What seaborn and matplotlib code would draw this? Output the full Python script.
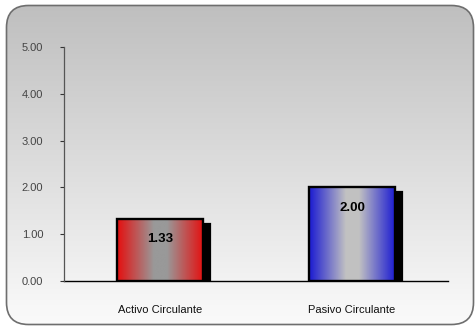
import numpy as np
import matplotlib
matplotlib.use("Agg")
import matplotlib.pyplot as plt
import matplotlib.transforms as mtransforms
from matplotlib.patches import FancyBboxPatch, Rectangle
import seaborn as sns

categories = ["Activo Circulante", "Pasivo Circulante"]
values = [1.33, 2.00]
value_labels = ["1.33", "2.00"]
ytick_values = [0, 1, 2, 3, 4, 5]
ytick_labels = ["0.00", "1.00", "2.00", "3.00", "4.00", "5.00"]
edge_colors = [(0.88, 0.09, 0.09), (0.14, 0.14, 0.82)]
center_colors = [(0.60, 0.60, 0.60), (0.76, 0.76, 0.76)]

sns.set_style("white")
plt.rcParams["font.family"] = ["Liberation Sans", "DejaVu Sans"]

W, H = 475, 328
fig = plt.figure(figsize=(W / 100, H / 100), dpi=100)
fig.patch.set_facecolor("white")

# background rounded gradient panel
bg = fig.add_axes([0, 0, 1, 1], zorder=-1)
bg.set_xlim(0, W)
bg.set_ylim(H, 0)
bg.axis("off")
grad = np.linspace(0.745, 0.985, 256).reshape(-1, 1)
img = bg.imshow(np.dstack([grad, grad, grad]), extent=[0, W, H, 0], aspect="auto", zorder=0)
panel = FancyBboxPatch((6.5, 5.5), 467, 319, boxstyle="round,pad=0,rounding_size=22",
                       facecolor="none", edgecolor="#6e6e6e", linewidth=1.2, zorder=2)
bg.add_patch(panel)
img.set_clip_path(panel)

ax = fig.add_axes([64 / W, 1 - 281 / H, (448 - 64) / W, (281 - 47) / H])
ax.patch.set_alpha(0)

sns.barplot(x=categories, y=values, width=0.45, ax=ax, color="white",
            edgecolor="black", linewidth=1.7, zorder=3)

ax.set_xlim(-0.5, 1.5)
ax.set_ylim(0, 5)

shadow_tr = ax.transData + mtransforms.ScaledTranslation(7 / 100, -5 / 100, fig.dpi_scale_trans)
for i, p in enumerate(ax.patches[:len(values)]):
    x0, y0 = p.get_x(), p.get_y()
    w, h = p.get_width(), p.get_height()
    p.set_facecolor("none")
    p.set_zorder(4)
    sh = Rectangle((x0, y0), w, h, facecolor="black", edgecolor="black",
                   linewidth=1.6, transform=shadow_tr, zorder=2)
    ax.add_patch(sh)
    t = np.linspace(-1, 1, 200)
    f = np.clip((np.abs(t) - 0.15) / 0.8, 0, 1)
    ec = np.array(edge_colors[i])
    cc = np.array(center_colors[i])
    cols = cc[None, :] * (1 - f[:, None]) + ec[None, :] * f[:, None]
    im = ax.imshow(cols[None, :, :], extent=[x0, x0 + w, y0, y0 + h], aspect="auto",
                   interpolation="bilinear", zorder=3)
    im.set_clip_path(p)
    ax.annotate(value_labels[i], xy=(x0 + w / 2, y0 + h), xytext=(0, -14.5),
                textcoords="offset points", ha="center", va="center",
                fontsize=9.5, fontweight="bold", color="black", zorder=5)

ax.set_xlim(-0.5, 1.5)
ax.set_ylim(0, 5)

ax.set_yticks(ytick_values)
ax.set_yticklabels(ytick_labels)
ax.set_xticks([0, 1])
ax.set_xticklabels(categories)
ax.set_xticks([-0.5, 0.5, 1.5], minor=True)
ax.tick_params(axis="x", which="major", length=0, pad=17, labelsize=8, labelcolor="#111111")
ax.tick_params(axis="x", which="minor", length=3, width=0.8, color="#333333", direction="out")
ax.tick_params(axis="y", length=3, width=0.8, color="#333333", direction="out", pad=12,
               labelsize=8, labelcolor="#444444", left=True)
ax.set_xlabel("")
ax.set_ylabel("")

for s in ["top", "right"]:
    ax.spines[s].set_visible(False)
ax.spines["left"].set_color("#555555")
ax.spines["left"].set_linewidth(0.9)
ax.spines["bottom"].set_color("black")
ax.spines["bottom"].set_linewidth(1.0)
ax.spines["bottom"].set_zorder(1)

fig.savefig("out.png", dpi=100)
